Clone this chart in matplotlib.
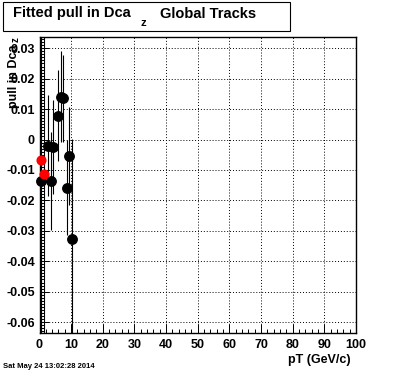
#!/usr/bin/env python3
# plot.py - fitted pull in Dca_z vs pT, global tracks (ROOT-style canvas)
import numpy as np
import matplotlib
matplotlib.use("Agg")
import matplotlib.pyplot as plt
from matplotlib.ticker import MultipleLocator, FormatStrFormatter
from matplotlib.patches import Rectangle

# black series
pt_black = [0.5, 2.6, 3.6, 4.4, 5.75, 6.8, 7.5, 8.6, 9.4, 10.4]
pull_black = [-0.0136, -0.0020, -0.0136, -0.0025, 0.0078, 0.0141, 0.0135,
              -0.0158, -0.0054, -0.0328]
err_black = [0.08, 0.0166, 0.016, 0.0155, 0.0150, 0.0150, 0.0143,
             0.0157, 0.0160, 0.033]

# red series
pt_red = [0.5, 1.5]
pull_red = [-0.0067, -0.0113]
err_red = [0.08, 0.08]

x_ticks = [0, 10, 20, 30, 40, 50, 60, 70, 80, 90, 100]
y_ticks = [-0.06, -0.05, -0.04, -0.03, -0.02, -0.01, 0, 0.01, 0.02, 0.03]

W, H = 396, 372
FONT = "Liberation Sans"


def fx(px):
    return px / W


def fy(py):
    return 1 - py / H


fig = plt.figure(figsize=(W / 100, H / 100), dpi=100)
ax = fig.add_axes([fx(39.5), fy(333), fx(356) - fx(39.5), fy(37) - fy(333)])

eb = ax.errorbar(pt_black, pull_black, yerr=err_black, fmt="o", color="black",
                 ms=6.8, elinewidth=0.8, capsize=0, zorder=3)
eb[0].set_clip_on(False)
er = ax.errorbar(pt_red, pull_red, yerr=err_red, fmt="o", color="black",
                 mfc="red", mec="red", ms=6.3, elinewidth=0.8, capsize=0,
                 zorder=4)
er[0].set_clip_on(False)

ax.set_xlim(0, 100)
ax.set_ylim(-0.0636, 0.0337)
ax.set_xticks(x_ticks)
ax.set_yticks(y_ticks)
ax.xaxis.set_minor_locator(MultipleLocator(2))
ax.yaxis.set_minor_locator(MultipleLocator(0.001))
ax.yaxis.set_major_formatter(FormatStrFormatter("%g"))

ax.tick_params(which="both", direction="in", top=False, right=False,
               width=0.7, colors="black")
ax.tick_params(which="major", length=6.5, labelsize=9)
ax.tick_params(axis="x", which="major", pad=4.3)
ax.tick_params(axis="y", which="major", pad=3.4)
ax.tick_params(which="minor", length=3)
for lab in ax.get_xticklabels() + ax.get_yticklabels():
    lab.set_fontfamily(FONT)
    lab.set_fontweight("bold")

ax.grid(True, which="major", color="black", ls=(0, (1, 2)), lw=0.7)
for s in ax.spines.values():
    s.set_linewidth(1.0)

# title box
fig.add_artist(Rectangle((fx(3), fy(31)), fx(290) - fx(3), fy(2) - fy(31),
                         transform=fig.transFigure, fill=False,
                         edgecolor="black", lw=0.8))
tkw = dict(family=FONT, weight="bold", fontsize=10.5, va="center")
fig.text(fx(13), fy(13.5), "Fitted pull in Dca", ha="left", **tkw)
fig.text(fx(143), fy(23.5), "z", ha="center", **{**tkw, "fontsize": 8})
fig.text(fx(160), fy(13.5), "Global Tracks", ha="left", **tkw)

# y axis label
fig.text(fx(14), fy(45), "pull in Dca", rotation=90, ha="center", va="top",
         family=FONT, weight="bold", fontsize=9)
fig.text(fx(16), fy(37), "z", rotation=90, ha="center", va="top",
         family=FONT, weight="bold", fontsize=7)

# x axis label
fig.text(fx(351), fy(360), "pT (GeV/c)", ha="right", va="center",
         family=FONT, weight="bold", fontsize=9)

# date stamp
fig.text(fx(3), fy(366), "Sat May 24 13:02:28 2014", ha="left", va="center",
         family=FONT, weight="bold", fontsize=5.5)

fig.savefig("out.png", dpi=100)
